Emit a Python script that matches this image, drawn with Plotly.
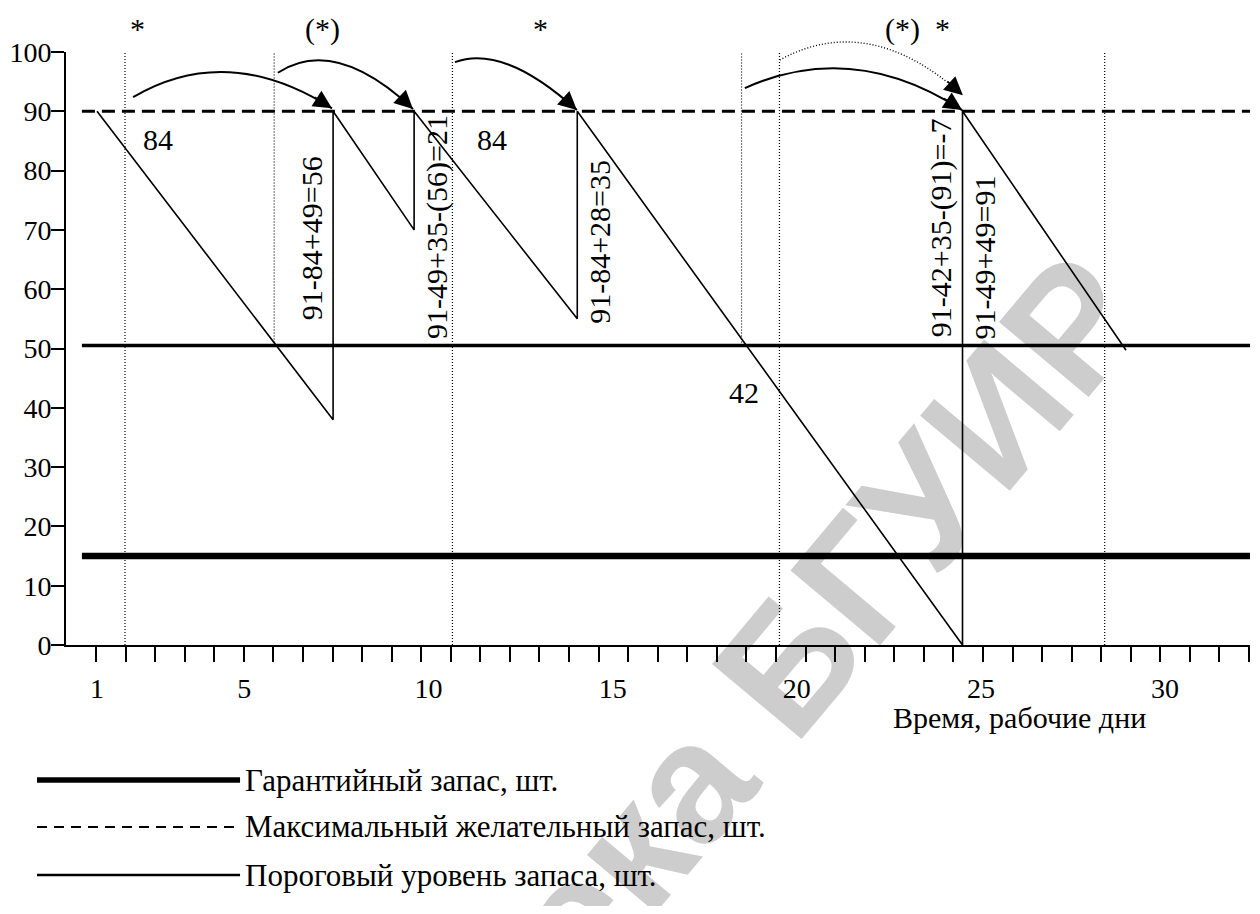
import numpy as np
import plotly.graph_objects as go

# ---------------- data ----------------
# stock level (saw-tooth), working days vs pieces
stock_days = [1.0, 7.41, 7.41, 9.61, 9.61, 14.04, 14.04, 24.5, 24.5, 28.94]
stock_level = [90, 38, 90, 70, 90, 55, 90, 0, 90, 49.7]

# horizontal reference levels
level_days = [0.59, 32.31]
max_stock = 90
threshold_stock = 50.5
guarantee_stock = 15

# dotted check-day lines
check_days = [1.76, 5.81, 10.65, 18.5, 19.53, 28.36]
check_top = [100, 100, 100, 100, 100, 100]
check_bottom = [0, 50.5, 0, 50.5, 0, 0]

# order arcs (start, middle, end), last one dotted
arc_start_x = [1.98, 5.91, 10.72, 18.59, 19.54]
arc_start_y = [92.4, 96.5, 98.3, 93.9, 98.65]
arc_mid_x = [4.61, 7.60, 12.21, 21.53, 21.99]
arc_mid_y = [96.6, 98.1, 97.8, 97.1, 101.3]
arc_end_x = [7.38, 9.58, 14.03, 24.49, 24.51]
arc_end_y = [90.5, 90.4, 90.2, 90.2, 92.7]
arc_dotted = [False, False, False, False, True]

# vertical formulas
formula_text = ["91-84+49=56", "91-49+35-(56)=21", "91-84+28=35",
                "91-42+35-(91)=-7", "91-49+49=91"]
formula_x = [6.81, 10.23, 14.66, 23.92, 25.1]
formula_y = [68.6, 70.5, 68.0, 70.3, 65.3]

# consumption numbers
qty_text = ["84", "84", "42"]
qty_x = [2.66, 11.72, 18.57]
qty_y = [85.3, 85.2, 42.5]

# check marks above the chart
mark_text = ["*", "(*)", "*", "(*)", "*"]
mark_x = [2.11, 7.11, 13.03, 22.88, 23.97]
mark_y = [103.9, 103.9, 103.9, 103.9, 103.9]

x_tick_labels = [1, 5, 10, 15, 20, 25, 30]
y_ticks = [0, 10, 20, 30, 40, 50, 60, 70, 80, 90, 100]

legend_names = ["Гарантийный запас, шт.",
                "Максимальный желательный запас, шт.",
                "Пороговый уровень запаса, шт."]
x_title = "Время, рабочие дни"
watermark = "Библиотека БГУИР"

# ---------------- styles ----------------
SERIF = "Liberation Serif"
X_RANGE = [0.158, 32.306]
Y_RANGE = [0, 100]
yspan = Y_RANGE[1] - Y_RANGE[0]


def to_paper(v):
    return (v - Y_RANGE[0]) / yspan


fig = go.Figure()

fig.add_trace(go.Scatter(x=level_days, y=[guarantee_stock] * 2, mode="lines",
                         line=dict(color="black", width=6.5),
                         name=legend_names[0], showlegend=False, hoverinfo="skip"))
fig.add_trace(go.Scatter(x=level_days, y=[threshold_stock] * 2, mode="lines",
                         line=dict(color="black", width=3.5),
                         name=legend_names[2], showlegend=False, hoverinfo="skip"))
fig.add_trace(go.Scatter(x=level_days, y=[max_stock] * 2, mode="lines",
                         line=dict(color="black", width=3, dash="13px,7px"),
                         name=legend_names[1], showlegend=False, hoverinfo="skip"))

cx, cy = [], []
for d, b, t in zip(check_days, check_bottom, check_top):
    cx += [d, d, None]
    cy += [b, t, None]
fig.add_trace(go.Scatter(x=cx, y=cy, mode="lines",
                         line=dict(color="black", width=1.2, dash="1px,2px"),
                         showlegend=False, hoverinfo="skip"))

fig.add_trace(go.Scatter(x=stock_days, y=stock_level, mode="lines",
                         line=dict(color="black", width=1.6),
                         showlegend=False, name="Запас"))

shapes = []
annotations = []
for x0, y0, xm, ym, x1, y1, dotted in zip(arc_start_x, arc_start_y, arc_mid_x, arc_mid_y,
                                          arc_end_x, arc_end_y, arc_dotted):
    qx = 2 * xm - (x0 + x1) / 2
    qy = 2 * ym - (y0 + y1) / 2
    path = f"M {x0},{to_paper(y0)} Q {qx},{to_paper(qy)} {x1},{to_paper(y1)}"
    shapes.append(dict(type="path", path=path, xref="x", yref="paper",
                       line=dict(color="black", width=1.4 if dotted else 2,
                                 dash="1px,2px" if dotted else "solid")))
    k = 0.18
    annotations.append(dict(x=x1, y=y1, xref="x", yref="y",
                            ax=x1 - k * (x1 - qx), ay=y1 - k * (y1 - qy),
                            axref="x", ayref="y", text="", showarrow=True,
                            arrowhead=2, arrowsize=2.3, arrowwidth=1.6,
                            arrowcolor="black", standoff=0, startstandoff=0))

for t, x, y in zip(formula_text, formula_x, formula_y):
    annotations.append(dict(x=x, y=y, xref="x", yref="y", text=t, showarrow=False,
                            textangle=-90, font=dict(family=SERIF, size=30, color="black")))
for t, x, y in zip(qty_text, qty_x, qty_y):
    annotations.append(dict(x=x, y=y, xref="x", yref="y", text=t, showarrow=False,
                            font=dict(family=SERIF, size=30, color="black")))
for t, x, y in zip(mark_text, mark_x, mark_y):
    annotations.append(dict(x=x, y=to_paper(y), xref="x", yref="paper", text=t,
                            showarrow=False, xanchor="center", yanchor="middle",
                            font=dict(family=SERIF, size=30, color="black")))

annotations.append(dict(x=0.914, y=-0.123, xref="paper", yref="paper", text=x_title,
                        showarrow=False, xanchor="right", yanchor="middle",
                        font=dict(family=SERIF, size=30, color="black")))

# legend drawn below the chart
leg_y = [-0.2277, -0.3069, -0.3879]
leg_styles = [dict(width=5.5), dict(width=2, dash="10px,7px"), dict(width=2.5)]
for name, yy, st in zip(legend_names, leg_y, leg_styles):
    shapes.append(dict(type="line", xref="paper", yref="paper",
                       x0=-0.0245, x1=0.147, y0=yy, y1=yy,
                       line=dict(color="black", **st)))
    annotations.append(dict(x=0.1495, y=yy, xref="paper", yref="paper", text=name,
                            showarrow=False, xanchor="left", yanchor="middle",
                            font=dict(family=SERIF, size=31, color="black")))

# scan watermark
shapes.append(dict(type="rect", xref="paper", yref="paper",
                   x0=0.43, x1=0.44, y0=-0.41, y1=-0.40, layer="below",
                   line=dict(width=0), fillcolor="rgba(0,0,0,0)",
                   label=dict(text=watermark, textangle=-50, textposition="middle center",
                              font=dict(family="Liberation Sans", size=170,
                                        color="#cdcdcd", weight="bold"))))

# the page body adds an 8 px offset, so the figure is 8 px smaller on each side
fig.update_layout(
    width=1252, height=898,
    margin=dict(l=58, r=10, t=44, b=261),
    paper_bgcolor="white", plot_bgcolor="white",
    showlegend=False,
    shapes=shapes, annotations=annotations,
    xaxis=dict(range=X_RANGE, automargin=False, showline=True, linecolor="black",
               linewidth=2, showgrid=False, zeroline=False,
               tickmode="array", tickvals=x_tick_labels,
               ticktext=[str(v) for v in x_tick_labels],
               ticks="outside", ticklen=17, tickcolor="rgba(0,0,0,0)",
               tickfont=dict(family=SERIF, size=28, color="black"),
               minor=dict(tickvals=list(np.linspace(0.973, 32.28, 40)),
                          ticks="outside", ticklen=15, tickwidth=2, tickcolor="black",
                          showgrid=False)),
    yaxis=dict(range=Y_RANGE, automargin=False, showline=True, linecolor="black",
               linewidth=2, showgrid=False, zeroline=False,
               tickmode="array", tickvals=y_ticks,
               ticks="outside", ticklen=13, tickwidth=2, tickcolor="black",
               ticklabelstandoff=-6,
               tickfont=dict(family=SERIF, size=28, color="black")),
)

fig.write_html("out.html")
